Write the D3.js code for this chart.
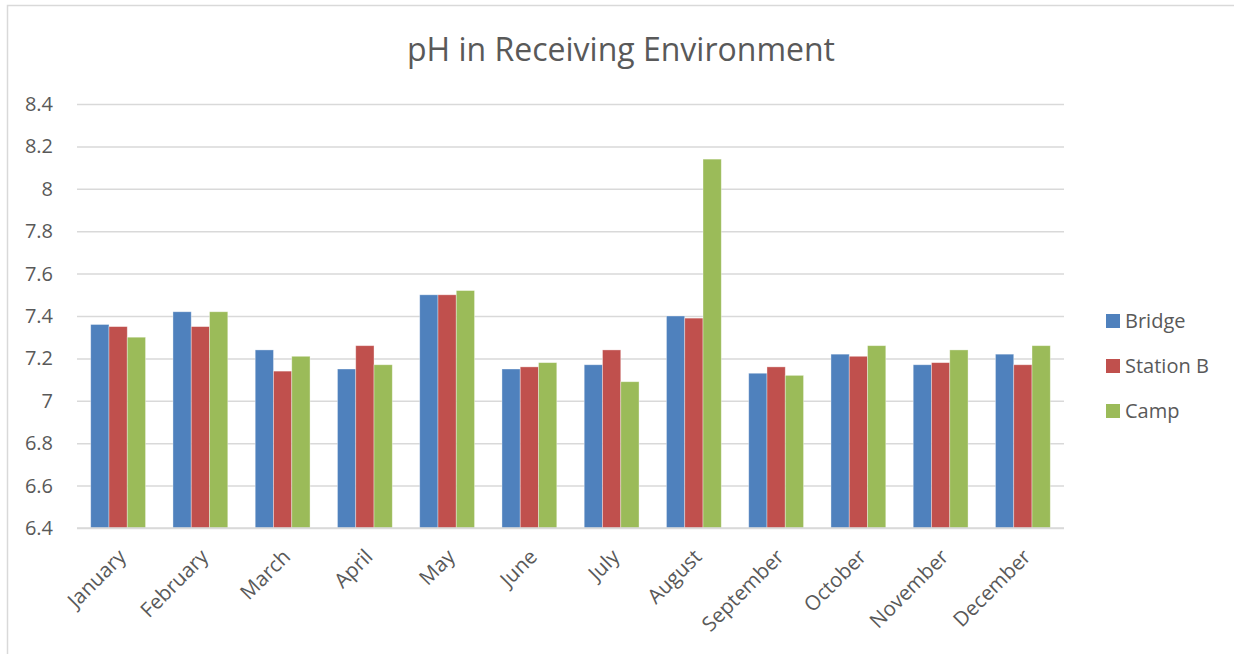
<!DOCTYPE html>
<html>
<head>
<meta charset="utf-8">
<script src="https://cdn.jsdelivr.net/npm/d3@7"></script>
<style>
  body { margin: 0; background: #fff; }
  text { font-family: "Open Sans", sans-serif; fill: #595959; }
</style>
</head>
<body>
<div id="chart"></div>
<script>
// Donnees
var months = ["January","February","March","April","May","June","July","August","September","October","November","December"];
var seriesNames = ["Bridge","Station B","Camp"];
var bridge   = [7.36, 7.42, 7.24, 7.15, 7.50, 7.15, 7.17, 7.40, 7.13, 7.22, 7.17, 7.22];
var stationB = [7.35, 7.35, 7.14, 7.26, 7.50, 7.16, 7.24, 7.39, 7.16, 7.21, 7.18, 7.17];
var camp     = [7.30, 7.42, 7.21, 7.17, 7.52, 7.18, 7.09, 8.14, 7.12, 7.26, 7.24, 7.26];
var yTicks = [6.4, 6.6, 6.8, 7, 7.2, 7.4, 7.6, 7.8, 8, 8.2, 8.4];
var colors = ["#4F81BD", "#C0504D", "#9BBB59"];

var W = 1234, H = 654;
var margin = {top: 104, left: 77, right: 170, bottom: 126};
var width = W - margin.left - margin.right,
    height = H - margin.top - margin.bottom;

var svg = d3.select("#chart").append("svg")
    .attr("width", W).attr("height", H);

// cadre du graphique
svg.append("rect")
    .attr("x", 7.5).attr("y", 5.5)
    .attr("width", W).attr("height", H)
    .attr("fill", "none")
    .attr("stroke", "#d9d9d9")
    .attr("stroke-width", 1.5);

svg.append("text")
    .attr("x", 621).attr("y", 61)
    .attr("text-anchor", "middle")
    .style("font-size", "32px")
    .text("pH in Receiving Environment");

var g = svg.append("g")
    .attr("transform", "translate(" + margin.left + "," + margin.top + ")");

var x = d3.scaleBand().domain(months).range([0, width]).paddingInner(1.5 / 4.5).paddingOuter(0.75 / 4.5);
var xSub = d3.scaleBand().domain(seriesNames).range([0, x.bandwidth()]);
var y = d3.scaleLinear().domain([6.4, 8.4]).range([height, 0]);

// grille
g.append("g")
    .call(d3.axisLeft(y).tickValues(yTicks).tickSize(-width).tickFormat(""))
    .call(function(a) {
        a.select(".domain").remove();
        a.selectAll("line").attr("stroke", "#d9d9d9").attr("stroke-width", 1.5);
    });

// etiquettes axe y
g.append("g")
    .call(d3.axisLeft(y).tickValues(yTicks).tickSize(0).tickPadding(24).tickFormat(d3.format("")))
    .call(function(a) {
        a.select(".domain").remove();
        a.selectAll("text").style("font-size", "20px").attr("fill", "#595959");
    });

var table = months.map(function(m, i) {
    return {month: m, values: [bridge[i], stationB[i], camp[i]]};
});

var groups = g.selectAll(".grp").data(table).enter().append("g")
    .attr("class", "grp")
    .attr("transform", function(d) { return "translate(" + x(d.month) + ",0)"; });

groups.selectAll("rect")
    .data(function(d) { return d.values.map(function(v, j) { return {name: seriesNames[j], value: v, j: j}; }); })
    .enter().append("rect")
    .attr("x", function(d) { return xSub(d.name); })
    .attr("y", function(d) { return y(d.value); })
    .attr("width", xSub.bandwidth())
    .attr("height", function(d) { return height - y(d.value); })
    .attr("fill", function(d) { return colors[d.j]; })
    .attr("stroke", "#ffffff")
    .attr("stroke-opacity", 0.45)
    .attr("stroke-width", 0.8);

// axe des x
g.append("line")
    .attr("x1", 0).attr("x2", width)
    .attr("y1", height).attr("y2", height)
    .attr("stroke", "#d9d9d9").attr("stroke-width", 1.5);

var xAxis = g.append("g")
    .attr("transform", "translate(0," + height + ")")
    .call(d3.axisBottom(x).tickSize(0).tickPadding(0));
xAxis.select(".domain").remove();
xAxis.selectAll("text")
    .style("font-size", "20.5px")
    .attr("fill", "#595959")
    .attr("text-anchor", "end")
    .attr("dy", "0.35em")
    .attr("transform", "translate(4,25) rotate(-45)");

// legende
var legend = svg.append("g").attr("transform", "translate(1106,0)");
var items = legend.selectAll("g").data(seriesNames).enter().append("g")
    .attr("transform", function(d, i) { return "translate(0," + (321 + i * 45) + ")"; });
items.append("rect")
    .attr("x", 0).attr("y", -7).attr("width", 14).attr("height", 14)
    .attr("fill", function(d, i) { return colors[i]; });
items.append("text")
    .attr("x", 19).attr("y", 0).attr("dy", "0.35em")
    .style("font-size", "20px")
    .text(function(d) { return d; });
</script>
</body>
</html>
